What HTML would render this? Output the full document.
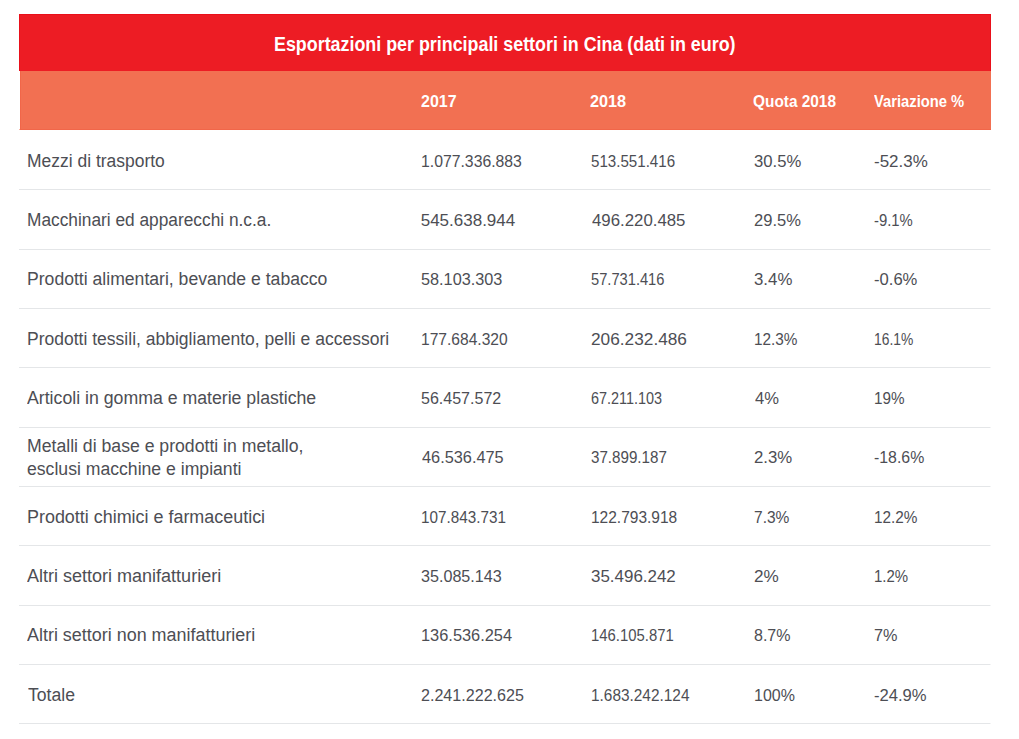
<!DOCTYPE html>
<html lang="it"><head><meta charset="utf-8"><title>Esportazioni per principali settori in Cina (dati in euro)</title>
<style>
html,body{margin:0;padding:0;background:#fff;}
body{width:1019px;height:739px;position:relative;overflow:hidden;font-family:"Liberation Sans",Arial,sans-serif;}
table{position:absolute;left:19px;top:14px;width:972px;border-collapse:separate;border-spacing:0;table-layout:fixed;}
th,td{padding:0;vertical-align:top;text-align:left;box-sizing:border-box;overflow:visible;}
.t,.h,.b,.n{white-space:nowrap;transform-origin:0 0;width:max-content;}
.t{font-size:20px;font-weight:bold;line-height:24px;color:#fff;}
.h{font-size:17px;font-weight:bold;line-height:20px;color:#fff;}
.b{font-size:18px;font-weight:normal;line-height:20px;color:#4d4e54;}
.n{font-size:17px;font-weight:normal;line-height:20px;color:#4d4e54;}
thead tr.title th{height:57px;background:#ED1C24;border:1px solid #E90F1A;border-bottom:0;}
thead tr.cols th{height:59px;background:#F27052;border-bottom:1px solid #F16649;}
thead tr.cols th:first-child{border-left:1px solid #fff;box-shadow:inset 1px 0 0 #F16649;}
tbody td{border-bottom:1px solid #E4E6E8;}
tbody td:last-child{border-right:1px solid #fff;}
</style></head><body>
<table>
<colgroup><col style="width:393px"><col style="width:170px"><col style="width:163px"><col style="width:120px"><col style="width:126px"></colgroup>
<thead>

<tr class="title"><th colspan="5"><div class="t" style="margin:17px 0 0 254.11px;transform:scaleX(0.8932)">Esportazioni per principali settori in Cina (dati in euro)</div></th></tr>
<tr class="cols"><th></th><th><div class="h" style="margin:21px 0 0 8.66px;transform:scaleX(0.9417)">2017</div></th><th><div class="h" style="margin:21px 0 0 8.24px;transform:scaleX(0.9556)">2018</div></th><th><div class="h" style="margin:21px 0 0 8.39px;transform:scaleX(0.9056)">Quota 2018</div></th><th><div class="h" style="margin:21px 0 0 9.20px;transform:scaleX(0.8683)">Variazione %</div></th></tr>
</thead>
<tbody>
<tr><td style="height:60px"><div class="b" style="margin:21px 0 0 8.23px;transform:scaleX(0.9700)">Mezzi di trasporto</div></td><td><div class="n" style="margin:22px 0 0 8.77px;transform:scaleX(0.9280)">1.077.336.883</div></td><td><div class="n" style="margin:22px 0 0 8.81px;transform:scaleX(0.8892)">513.551.416</div></td><td><div class="n" style="margin:22px 0 0 8.82px;transform:scaleX(0.9809)">30.5%</div></td><td><div class="n" style="margin:22px 0 0 8.70px;transform:scaleX(0.9981)">-52.3%</div></td></tr>
<tr><td style="height:60px"><div class="b" style="margin:20px 0 0 8.24px;transform:scaleX(0.9611)">Macchinari ed apparecchi n.c.a.</div></td><td><div class="n" style="margin:21px 0 0 8.70px;transform:scaleX(1.0000)">545.638.944</div></td><td><div class="n" style="margin:21px 0 0 9.70px;transform:scaleX(0.9883)">496.220.485</div></td><td><div class="n" style="margin:21px 0 0 8.83px;transform:scaleX(0.9723)">29.5%</div></td><td><div class="n" style="margin:21px 0 0 8.83px;transform:scaleX(0.8744)">-9.1%</div></td></tr>
<tr><td style="height:59px"><div class="b" style="margin:19px 0 0 8.22px;transform:scaleX(0.9778)">Prodotti alimentari, bevande e tabacco</div></td><td><div class="n" style="margin:20px 0 0 8.74px;transform:scaleX(0.9560)">58.103.303</div></td><td><div class="n" style="margin:20px 0 0 8.84px;transform:scaleX(0.8631)">57.731.416</div></td><td><div class="n" style="margin:20px 0 0 8.81px;transform:scaleX(0.9892)">3.4%</div></td><td><div class="n" style="margin:20px 0 0 8.72px;transform:scaleX(0.9767)">-0.6%</div></td></tr>
<tr><td style="height:59px"><div class="b" style="margin:20px 0 0 8.23px;transform:scaleX(0.9730)">Prodotti tessili, abbigliamento, pelli e accessori</div></td><td><div class="n" style="margin:21px 0 0 8.78px;transform:scaleX(0.9172)">177.684.320</div></td><td><div class="n" style="margin:21px 0 0 8.68px;transform:scaleX(1.0151)">206.232.486</div></td><td><div class="n" style="margin:21px 0 0 8.90px;transform:scaleX(0.9021)">12.3%</div></td><td><div class="n" style="margin:21px 0 0 8.89px;transform:scaleX(0.8149)">16.1%</div></td></tr>
<tr><td style="height:60px"><div class="b" style="margin:20px 0 0 8.10px;transform:scaleX(0.9833)">Articoli in gomma e materie plastiche</div></td><td><div class="n" style="margin:21px 0 0 8.76px;transform:scaleX(0.9429)">56.457.572</div></td><td><div class="n" style="margin:21px 0 0 8.85px;transform:scaleX(0.8488)">67.211.103</div></td><td><div class="n" style="margin:21px 0 0 9.80px;transform:scaleX(0.9750)">4%</div></td><td><div class="n" style="margin:21px 0 0 8.80px;transform:scaleX(0.8970)">19%</div></td></tr>
<tr><td style="height:59px"><div class="b" style="margin:8px 0 0 8.22px;transform:scaleX(0.9800)">Metalli di base e prodotti in metallo,</div><div class="b" style="margin:3px 0 0 8.22px;transform:scaleX(0.9788)">esclusi macchine e impianti</div></td><td><div class="n" style="margin:20px 0 0 9.70px;transform:scaleX(0.9600)">46.536.475</div></td><td><div class="n" style="margin:20px 0 0 8.81px;transform:scaleX(0.8917)">37.899.187</div></td><td><div class="n" style="margin:20px 0 0 8.81px;transform:scaleX(0.9865)">2.3%</div></td><td><div class="n" style="margin:20px 0 0 8.77px;transform:scaleX(0.9327)">-18.6%</div></td></tr>
<tr><td style="height:59px"><div class="b" style="margin:20px 0 0 8.20px;transform:scaleX(0.9958)">Prodotti chimici e farmaceutici</div></td><td><div class="n" style="margin:21px 0 0 8.80px;transform:scaleX(0.8978)">107.843.731</div></td><td><div class="n" style="margin:21px 0 0 8.79px;transform:scaleX(0.9118)">122.793.918</div></td><td><div class="n" style="margin:21px 0 0 8.89px;transform:scaleX(0.9135)">7.3%</div></td><td><div class="n" style="margin:21px 0 0 8.80px;transform:scaleX(0.9021)">12.2%</div></td></tr>
<tr><td style="height:60px"><div class="b" style="margin:20px 0 0 8.10px;transform:scaleX(1.0005)">Altri settori manifatturieri</div></td><td><div class="n" style="margin:21px 0 0 8.75px;transform:scaleX(0.9488)">35.085.143</div></td><td><div class="n" style="margin:21px 0 0 8.70px;transform:scaleX(0.9964)">35.496.242</div></td><td><div class="n" style="margin:21px 0 0 8.79px;transform:scaleX(1.0087)">2%</div></td><td><div class="n" style="margin:21px 0 0 8.82px;transform:scaleX(0.8811)">1.2%</div></td></tr>
<tr><td style="height:59px"><div class="b" style="margin:19px 0 0 8.10px;transform:scaleX(0.9965)">Altri settori non manifatturieri</div></td><td><div class="n" style="margin:20px 0 0 8.74px;transform:scaleX(0.9634)">136.536.254</div></td><td><div class="n" style="margin:20px 0 0 8.82px;transform:scaleX(0.8753)">146.105.871</div></td><td><div class="n" style="margin:20px 0 0 8.86px;transform:scaleX(0.9432)">8.7%</div></td><td><div class="n" style="margin:20px 0 0 8.74px;transform:scaleX(0.9565)">7%</div></td></tr>
<tr><td style="height:59px"><div class="b" style="margin:20px 0 0 9.20px;transform:scaleX(0.9787)">Totale</div></td><td><div class="n" style="margin:21px 0 0 8.75px;transform:scaleX(0.9467)">2.241.222.625</div></td><td><div class="n" style="margin:21px 0 0 8.79px;transform:scaleX(0.9056)">1.683.242.124</div></td><td><div class="n" style="margin:21px 0 0 8.86px;transform:scaleX(0.9405)">100%</div></td><td><div class="n" style="margin:21px 0 0 8.72px;transform:scaleX(0.9769)">-24.9%</div></td></tr>
</tbody>
</table>
</body></html>
